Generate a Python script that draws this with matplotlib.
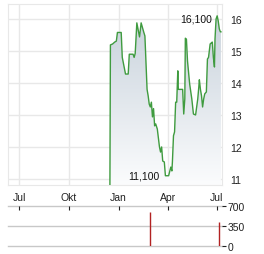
import numpy as np
import matplotlib
matplotlib.use("Agg")
import matplotlib.pyplot as plt
import matplotlib.dates as mdates
from matplotlib.colors import LinearSegmentedColormap

plt.rcParams['font.family'] = ['Liberation Sans', 'DejaVu Sans']

# price series
dates = np.array([
    "2023-12-16", "2023-12-17", "2023-12-21", "2023-12-25", "2023-12-28", "2023-12-30",
    "2024-01-06", "2024-01-08", "2024-01-14", "2024-01-19", "2024-01-21", "2024-01-28",
    "2024-01-30", "2024-02-01", "2024-02-04", "2024-02-09", "2024-02-12", "2024-02-17",
    "2024-02-19", "2024-02-23", "2024-02-25", "2024-02-27", "2024-02-29", "2024-03-02",
    "2024-03-04", "2024-03-06", "2024-03-08", "2024-03-10", "2024-03-13", "2024-03-17",
    "2024-03-19", "2024-03-21", "2024-03-23", "2024-03-26", "2024-03-28", "2024-04-03",
    "2024-04-07", "2024-04-09", "2024-04-10", "2024-04-12", "2024-04-14", "2024-04-16",
    "2024-04-18", "2024-04-20", "2024-04-21", "2024-04-29", "2024-05-01", "2024-05-03",
    "2024-05-04", "2024-05-06", "2024-05-08", "2024-05-12", "2024-05-16", "2024-05-19",
    "2024-05-23", "2024-05-27", "2024-05-29", "2024-05-30", "2024-06-01", "2024-06-03",
    "2024-06-05", "2024-06-07", "2024-06-09", "2024-06-12", "2024-06-14", "2024-06-16",
    "2024-06-19", "2024-06-21", "2024-06-23", "2024-06-25", "2024-06-27", "2024-06-28",
    "2024-06-30", "2024-07-02", "2024-07-04", "2024-07-06", "2024-07-08", "2024-07-09",
], dtype="datetime64[D]")
prices = [
    10.5, 15.19, 15.22, 15.28, 15.31, 15.58,
    15.58, 14.8, 14.28, 14.28, 14.9, 14.9,
    14.8, 14.93, 15.88, 15.44, 15.88, 15.58,
    15.47, 13.8, 13.6, 13.34, 13.25, 13.4,
    12.94, 13.2, 12.66, 12.72, 12.56, 12.0,
    11.84, 12.0, 11.56, 11.53, 11.1, 11.1,
    11.37, 11.25, 11.53, 12.35, 12.47, 13.4,
    13.4, 14.38, 13.8, 13.8, 13.03, 13.5,
    15.4, 15.37, 14.69, 13.97, 13.5, 13.03,
    13.0, 13.5, 13.88, 14.1, 13.8, 13.6,
    13.25, 13.5, 13.66, 13.72, 14.75, 14.8,
    15.22, 15.25, 15.28, 14.8, 14.5, 15.37,
    16.0, 16.1, 15.94, 15.69, 15.6, 15.6,
]

vol_dates = np.array(["2024-02-29", "2024-07-06"], dtype="datetime64[D]")
volumes = [595, 420]

month_ticks = np.array(["2023-07-01", "2023-10-01", "2024-01-01", "2024-04-01", "2024-07-01"],
                       dtype="datetime64[D]")
month_labels = ["Jul", "Okt", "Jan", "Apr", "Jul"]
price_ticks = [11, 12, 13, 14, 15, 16]
vol_ticks = [0, 350, 700]

xmin = np.datetime64("2023-06-10")
xmax = np.datetime64("2024-07-11")
ymin, ymax = 10.81, 16.47


def num(d):
    return mdates.date2num(d.astype("datetime64[s]").astype(object))


fig = plt.figure(figsize=(2.64, 2.55), dpi=100)
ax = fig.add_axes([8/264, 1-186/255, 214/264, 181/255])
axv = fig.add_axes([8/264, 1-247/255, 214/264, 40/255])

xd = num(dates)
x0n, x1n = num(xmin), num(xmax)
# gradient area under the line
poly = ax.fill_between(xd, prices, ymin, color="none", lw=0)
cmap = LinearSegmentedColormap.from_list("g", ["#fbfcfd", "#c7d1db"])
grad = np.linspace(0, 1, 256).reshape(-1, 1)
im = ax.imshow(grad, extent=[x0n, x1n, ymin, 16.2], origin="lower", aspect="auto",
               cmap=cmap, zorder=1)
im.set_clip_path(poly.get_paths()[0], transform=ax.transData)
ax.plot(xd, prices, color="#3f9b3f", lw=1.0, zorder=3)

ax.set_xlim(x0n, x1n)
ax.set_ylim(ymin, ymax)
mt = num(month_ticks)
ax.set_xticks(mt)
ax.set_xticklabels(month_labels)
ax.set_yticks(price_ticks)
ax.yaxis.tick_right()
ax.tick_params(axis="y", length=0, pad=6, labelsize=7.5, colors="#222222")
ax.tick_params(axis="x", length=0, pad=5, labelsize=7.5, colors="#222222")
ax.grid(True, color="#e8e8e8", lw=1)
ax.set_axisbelow(True)
for s in ax.spines.values():
    s.set_color("#e8e8e8")

imax = int(np.argmax(prices))
imin = int(np.argmin(prices[1:])) + 1
ax.annotate(f"{prices[imax]:.3f}".replace(".", ","), (xd[imax], prices[imax]),
            xytext=(-4, -2), textcoords="offset points", ha="right", va="center",
            fontsize=7.5, color="#111111")
ax.annotate(f"{prices[imin]:.3f}".replace(".", ","), (xd[imin], prices[imin]),
            xytext=(-4, 0), textcoords="offset points", ha="right", va="center",
            fontsize=7.5, color="#111111")

# volume panel
vd = num(vol_dates)
for v in vol_ticks:
    axv.axhline(v, color="#c8c8c8", lw=1, clip_on=False, zorder=0)
axv.vlines(vd, 0, volumes, color="#b22222", lw=1.0, zorder=2)
axv.set_xlim(x0n, x1n)
axv.set_ylim(0, 700)
axv.set_yticks(vol_ticks)
axv.yaxis.tick_right()
axv.tick_params(axis="y", length=3, width=0.8, pad=1, labelsize=7.5, colors="#222222")
axv.set_xticks(mt)
axv.xaxis.tick_top()
axv.tick_params(axis="x", direction="in", length=3, width=0.8, labeltop=False, colors="#222222")
for s in axv.spines.values():
    s.set_visible(False)

fig.savefig("out.png", dpi=100)
